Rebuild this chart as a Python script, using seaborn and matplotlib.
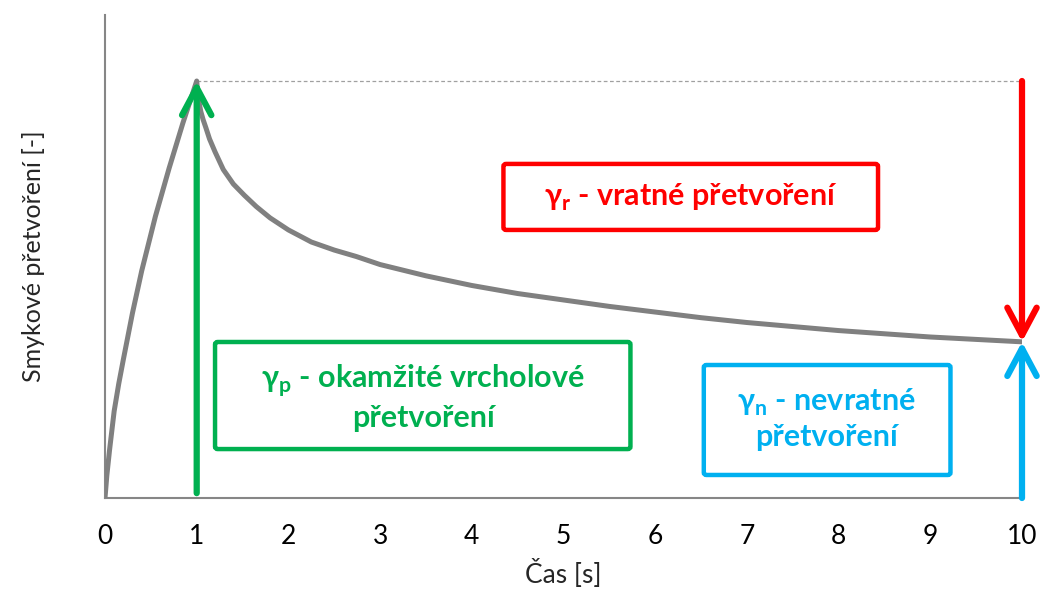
import matplotlib
matplotlib.use("Agg")
import matplotlib.pyplot as plt
import seaborn as sns
import pandas as pd
from matplotlib.patches import FancyBboxPatch

# ---- data ----
time_s = [0, 0.02, 0.05, 0.1, 0.15, 0.2, 0.3, 0.4, 0.55, 0.7, 0.85, 1.0,
          1.01, 1.025, 1.045, 1.07, 1.1, 1.14, 1.2, 1.29, 1.4, 1.52, 1.65, 1.8,
          2.0, 2.25, 2.5, 2.74, 3.0, 3.5,
          4.0, 4.5, 5.0, 5.5, 6.0, 6.5, 7.0, 7.5, 8.0, 8.5, 9.0, 9.5, 10.0]
strain = [0, 0.14, 0.30, 0.54, 0.71, 0.86, 1.15, 1.41, 1.75, 2.05, 2.33, 2.59,
          2.52, 2.46, 2.40, 2.35, 2.30, 2.23, 2.15, 2.04, 1.95, 1.88, 1.81, 1.74,
          1.665, 1.59, 1.54, 1.50, 1.45, 1.38,
          1.32, 1.27, 1.23, 1.19, 1.155, 1.12, 1.09, 1.065, 1.04, 1.02, 1.0, 0.985, 0.97]
x_ticks = [0, 1, 2, 3, 4, 5, 6, 7, 8, 9, 10]
y_ticks = [0, 1, 2, 3]
peak_t, peak_val = 1.0, 2.59
end_t, end_val = 10.0, 0.97
label_p = "γ$_\\mathbf{p}$ - okamžité vrcholové\npřetvoření"
label_r = "γ$_\\mathbf{r}$ - vratné přetvoření"
label_n = "γ$_\\mathbf{n}$ - nevratné\npřetvoření"
x_label = "Čas [s]"
y_label = "Smykové přetvoření [-]"

sns.set_style("white")
plt.rcParams['font.family'] = ['Lato', 'DejaVu Sans']
plt.rcParams['mathtext.fontset'] = 'custom'
plt.rcParams['mathtext.rm'] = 'Lato'
plt.rcParams['mathtext.bf'] = 'Lato:bold'

GREEN = "#00B050"
RED = "#FF0000"
BLUE = "#00B0F0"
AX = "#868686"

fig = plt.figure(figsize=(10.42, 5.95), dpi=100)
ax = fig.add_axes([105/1042, 1-498/595, (1022-105)/1042, (498-15)/595])

df = pd.DataFrame({"t": time_s, "g": strain})
sns.lineplot(data=df, x="t", y="g", ax=ax, color="#808080", lw=3.6,
             solid_joinstyle="round", solid_capstyle="round", zorder=3)

ax.set_xlim(0, 10)
ax.set_ylim(0, 3)
ax.set_xticks(x_ticks)
ax.set_xticklabels([str(v) for v in x_ticks], fontsize=19)
ax.set_yticks(y_ticks)
ax.set_yticklabels([])
for s in ["top", "right"]:
    ax.spines[s].set_visible(False)
for s in ["left", "bottom"]:
    ax.spines[s].set_color(AX)
    ax.spines[s].set_linewidth(1.5)
ax.tick_params(axis="x", direction="out", length=7, width=1.5, color=AX, pad=12, labelcolor="black")
ax.tick_params(axis="y", direction="out", length=6, width=1.5, color=AX)
ax.set_xlabel(x_label, fontsize=19, labelpad=7)
ax.set_ylabel(y_label, fontsize=18, labelpad=34)

# dashed reference line at peak
ax.plot([peak_t, end_t], [peak_val, peak_val], color="#A0A0A0", lw=0.9,
        ls=(0, (3, 2)), zorder=2, clip_on=False)

def arrow(x0, y0, x1, y1, color):
    ax.annotate("", xy=(x1, y1), xytext=(x0, y0),
                arrowprops=dict(arrowstyle="->,head_length=0.6,head_width=0.32",
                                color=color, lw=4.5, shrinkA=0, shrinkB=0,
                                mutation_scale=33, capstyle="round",
                                joinstyle="round"),
                annotation_clip=False, zorder=5)

arrow(peak_t, 0.03, peak_t, peak_val, GREEN)
arrow(end_t, peak_val, end_t, end_val, RED)
arrow(end_t, 0.0, end_t, end_val, BLUE)

def box(x0, y0, x1, y1, color):
    p = FancyBboxPatch((x0, y0), x1 - x0, y1 - y0,
                       boxstyle="round,pad=0,rounding_size=0.03",
                       fill=False, ec=color, lw=3.2, zorder=4,
                       mutation_aspect=0.5)
    ax.add_patch(p)

box(1.20, 0.304, 5.73, 0.969, GREEN)
ax.text(3.47, 0.625, label_p, color=GREEN, fontsize=22, fontweight="bold",
        ha="center", va="center", linespacing=1.2, zorder=6)

box(4.345, 1.665, 8.43, 2.075, RED)
ax.text(6.39, 1.865, label_r, color=RED, fontsize=22, fontweight="bold",
        ha="center", va="center", zorder=6)

box(6.53, 0.143, 9.22, 0.826, BLUE)
ax.text(7.87, 0.49, label_n, color=BLUE, fontsize=22, fontweight="bold",
        ha="center", va="center", linespacing=1.2, zorder=6)

fig.savefig("out.png", dpi=100)
